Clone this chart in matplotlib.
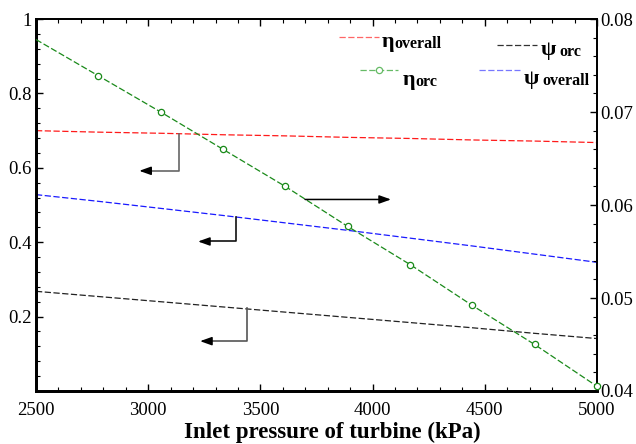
"""Overall and ORC efficiencies against turbine inlet pressure."""

import matplotlib

matplotlib.use("Agg")

import matplotlib.pyplot as plt
from matplotlib.ticker import FuncFormatter, MultipleLocator

plt.rcParams["font.family"] = ["Liberation Serif", "DejaVu Serif"]

pressure = [2500, 2778, 3056, 3333, 3611, 3889, 4167, 4444, 4722, 5000]
eta_overall = [0.700, 0.696, 0.693, 0.689, 0.686, 0.682, 0.679, 0.675, 0.672, 0.668]
psi_overall = [0.528, 0.510, 0.491, 0.472, 0.452, 0.432, 0.411, 0.390, 0.368, 0.346]
psi_orc = [0.268, 0.254, 0.240, 0.226, 0.212, 0.198, 0.184, 0.170, 0.155, 0.141]
eta_orc = [0.0778, 0.0739, 0.0700, 0.0660, 0.0620, 0.0577, 0.0536, 0.0492, 0.0450, 0.0405]

DASH = (0, (5, 2))
RED, GREEN, BLUE, BLACK = "#ff1a1a", "#1a8a1a", "#1a1aff", "#222222"

fig = plt.figure(figsize=(6.36, 4.44), dpi=100)
ax = fig.add_axes([0.0566, 0.1194, 0.8821, 0.8376])
ax2 = ax.twinx()

ax.plot(pressure, eta_overall, color=RED, lw=0.9, ls=DASH)
ax.plot(pressure, psi_overall, color=BLUE, lw=0.9, ls=DASH)
ax.plot(pressure, psi_orc, color=BLACK, lw=0.9, ls=DASH)
ax2.plot(pressure, eta_orc, color=GREEN, lw=0.9, ls=DASH, marker="o",
         markersize=4.5, markerfacecolor="white", markeredgewidth=0.9,
         markevery=list(range(1, len(pressure))), clip_on=False, zorder=3)

ax.set_xlim(2500, 5000)
ax.set_ylim(0, 1)
ax2.set_ylim(0.04, 0.08)

ax.xaxis.set_major_locator(MultipleLocator(500))
ax.xaxis.set_minor_locator(MultipleLocator(100))
ax.yaxis.set_major_locator(MultipleLocator(0.2))
ax.yaxis.set_minor_locator(MultipleLocator(0.04))
ax2.yaxis.set_major_locator(MultipleLocator(0.01))
ax2.yaxis.set_minor_locator(MultipleLocator(0.002))
ax.yaxis.set_major_formatter(FuncFormatter(lambda v, _: "" if v < 0.01 else f"{v:g}"))
ax2.yaxis.set_major_formatter(FuncFormatter(lambda v, _: f"{v:.2f}"))

ax.tick_params(axis="x", which="both", direction="in", top=True, labelsize=13.5, pad=8)
ax.tick_params(axis="x", which="major", length=5, width=1)
ax.tick_params(axis="x", which="minor", length=3, width=0.8)
ax.tick_params(axis="y", which="both", direction="in", labelsize=13.5, pad=3)
ax.tick_params(axis="y", which="major", length=5, width=1)
ax.tick_params(axis="y", which="minor", length=3, width=0.8)
ax2.tick_params(axis="y", which="both", direction="in", labelsize=13.5, pad=2)
ax2.tick_params(axis="y", which="major", length=5, width=1)
ax2.tick_params(axis="y", which="minor", length=3, width=0.8)

for side, w in (("left", 2), ("bottom", 2), ("top", 1.3), ("right", 1.3)):
    ax.spines[side].set_linewidth(w)
    ax2.spines[side].set_linewidth(w)

ax.set_xlabel("Inlet pressure of turbine (kPa)", fontsize=16.5, fontweight="bold",
              labelpad=2)
ax.xaxis.label.set_x(0.529)

# pointer arrows telling which axis each curve belongs to
arrow = dict(arrowstyle="-|>,head_length=0.7,head_width=0.25", color="black", lw=1.1,
             shrinkA=0, shrinkB=0)
for x0, y0, y1, tip, col in (
    (3137, 0.692, 0.592, 2960, "#666666"),
    (3391, 0.469, 0.402, 3222, "#111111"),
    (3440, 0.222, 0.134, 3231, "#555555"),
):
    ax.plot([x0, x0, tip + 30], [y0, y1, y1], color=col, lw=1.2)
    ax.annotate("", xy=(tip, y1), xytext=(tip + 40, y1), arrowprops=arrow)
ax2.annotate("", xy=(4082, 0.0606), xytext=(3699, 0.0606), arrowprops=arrow)


def legend_entry(x0, x1, y, color, greek, sub, tx, ty, marker=None, gap=0.0):
    ax.plot([x0, x1], [y, y], transform=ax.transAxes, color=color, lw=0.9,
            ls=DASH, clip_on=False)
    if marker:
        ax.plot([(x0 + x1) / 2], [y], transform=ax.transAxes, color=color,
                marker=marker, markersize=4.5, markerfacecolor="white",
                markeredgewidth=0.9, clip_on=False)
    g = ax.text(tx, ty, greek, transform=ax.transAxes, fontsize=16,
                fontweight="bold", ha="left", va="baseline")
    ax.annotate(sub, xy=(1, 0), xycoords=g, xytext=(gap, 0),
                textcoords="offset points", fontsize=11.5, fontweight="bold",
                ha="left", va="bottom")


legend_entry(0.540, 0.611, 0.952, "#ff6666", "η", "overall", 0.617, 0.925)
legend_entry(0.578, 0.645, 0.863, "#66bb66", "η", "orc", 0.654, 0.822, marker="o")
legend_entry(0.821, 0.893, 0.930, "#333333", "ψ", "orc", 0.900, 0.903, gap=2.5)
legend_entry(0.789, 0.862, 0.863, "#7777ff", "ψ", "overall", 0.869, 0.825, gap=2.5)

fig.savefig("out.png", dpi=100)
